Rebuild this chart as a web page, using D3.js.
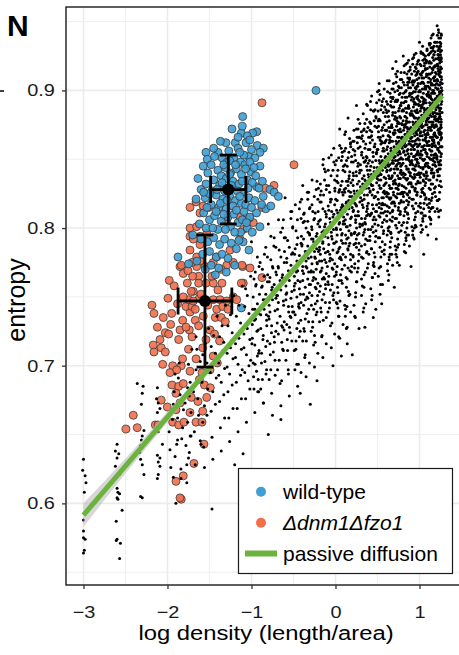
<!DOCTYPE html>
<html><head><meta charset="utf-8">
<script src="https://cdn.jsdelivr.net/npm/d3@7"></script>
<style>body{margin:0;background:#fff;} svg{display:block;font-family:"Liberation Sans",Arial,Helvetica,sans-serif;}</style>
</head><body><svg id="c" width="459" height="655"></svg>
<script>
// ---------------- data ----------------
const xTicks = [-3, -2, -1, 0, 1];
const yTicks = [0.6, 0.7, 0.8, 0.9];
const xMinor = [-2.5, -1.5, -0.5, 0.5, 1.5];
const yMinor = [0.55, 0.65, 0.75, 0.85, 0.95];
const xDomain = [-3.208, 1.506];
const yDomain = [0.5407, 0.9606];
const fitX = [-3, 1.27];
const fitY = [0.5915, 0.896];
const bandX = [-3, -2.5, -2, -1.5, -1, 0, 1, 1.27];
const bandHalf = [0.0085, 0.0055, 0.0038, 0.0026, 0.002, 0.0015, 0.0018, 0.0022];
const legendLabels = ["wild-type", "Δdnm1Δfzo1", "passive diffusion"];
const meanX = [-1.276, -1.554];
const meanY = [0.828, 0.747];
const sdX = [0.21, 0.32];
const sdY = [0.025, 0.048];

const passive = [
[-3.00,.632],[-3.01,.624],[-2.98,.620],[-2.97,.615],[-2.99,.608],[-3.00,.588],[-3.00,.580],[-3.00,.575],[-2.98,.574],[-2.99,.566],[-3.00,.564],
[-2.60,.643],[-2.62,.638],[-2.58,.636],[-2.60,.633],[-2.62,.627],[-2.57,.621],[-2.60,.611],[-2.59,.608],[-2.57,.607],[-2.60,.604],[-2.59,.603],[-2.54,.595],[-2.61,.587],[-2.60,.574],[-2.61,.573],[-2.56,.571],[-2.57,.560],
[-2.36,.687],[-2.29,.685],[-2.30,.680],[-2.31,.672],[-2.28,.653],[-2.30,.649],[-2.31,.646],[-2.32,.642],[-2.33,.637],[-2.32,.632],[-2.30,.628],[-2.28,.621],[-2.32,.605],[-2.30,.604],
[-2.12,.684],[-2.13,.676],[-2.11,.673],[-2.12,.666],[-2.09,.669],[-2.11,.652],[-2.12,.635],[-2.09,.633],[-2.11,.630],[-2.09,.627],[-2.11,.621],[-2.12,.618],[-2.06,.643],
[-1.91,.634],[-1.89,.643],[-1.88,.646],[-1.93,.619],[-1.90,.600],[-1.73,.649],[-1.72,.649],[-1.74,.637],[-1.75,.633],[-1.84,.625],[-1.61,.6455],[-1.60,.643],[-1.47,.596],[-1.77,.628],
[-1.98,.652],[-1.95,.668],[-1.92,.681],[-1.97,.639],[-1.94,.661],[-1.91,.694],[-1.96,.626],[-1.93,.672],
[-1.88,.662],[-1.85,.679],[-1.82,.655],[-1.87,.691],[-1.84,.618],[-1.81,.668],[-1.86,.702],[-1.83,.647],
[-1.79,.673],[-1.76,.659],[-1.73,.688],[-1.78,.642],[-1.75,.701],[-1.72,.666],[-1.77,.615],[-1.74,.678],[-1.71,.712],[-1.76,.684],
[-1.69,.681],[-1.66,.697],[-1.63,.664],[-1.68,.652],[-1.65,.712],[-1.62,.689],[-1.67,.628],[-1.64,.676],[-1.61,.703],[-1.66,.721],
[-1.59,.688],[-1.56,.671],[-1.53,.702],[-1.58,.659],[-1.55,.716],[-1.52,.683],[-1.57,.641],[-1.54,.695],[-1.51,.727],[-1.58,.708],[-1.53,.664],[-1.56,.626],
[-1.49,.695],[-1.46,.681],[-1.43,.709],[-1.48,.667],[-1.45,.722],[-1.42,.691],[-1.47,.648],[-1.44,.703],[-1.41,.736],[-1.48,.714],[-1.43,.672],[-1.46,.632],
[-1.39,.702],[-1.36,.688],[-1.33,.717],[-1.38,.674],[-1.35,.729],[-1.32,.698],[-1.37,.655],[-1.34,.711],[-1.31,.744],[-1.38,.721],[-1.33,.679],[-1.36,.638],[-1.32,.662],[-1.39,.693],
[-1.29,.709],[-1.26,.694],[-1.23,.724],[-1.28,.681],[-1.25,.737],[-1.22,.705],[-1.27,.662],[-1.24,.718],[-1.21,.751],[-1.28,.729],[-1.23,.686],[-1.26,.645],[-1.22,.669],[-1.29,.699],[-1.25,.713],
[-1.19,.716],[-1.16,.701],[-1.13,.731],[-1.18,.688],[-1.15,.744],[-1.12,.712],[-1.17,.669],[-1.14,.725],[-1.11,.758],[-1.18,.736],[-1.13,.693],[-1.16,.652],[-1.12,.676],[-1.19,.706],[-1.15,.720],[-1.11,.697],
[-1.09,.723],[-1.06,.708],[-1.03,.738],[-1.08,.695],[-1.05,.751],[-1.02,.719],[-1.07,.676],[-1.04,.732],[-1.01,.765],[-1.08,.743],[-1.03,.700],[-1.06,.659],[-1.02,.683],[-1.09,.713],[-1.05,.727],[-1.01,.704],[-1.07,.756],[-1.04,.689],
[-.99,.730],[-.96,.715],[-.93,.745],[-.98,.702],[-.95,.758],[-.92,.726],[-.97,.683],[-.94,.739],[-.91,.772],[-.98,.750],[-.93,.707],[-.96,.666],[-.92,.690],[-.99,.720],[-.95,.734],[-.91,.711],[-.97,.763],[-.94,.696],[-.93,.779],[-.96,.741],
[-.89,.737],[-.86,.722],[-.83,.752],[-.88,.709],[-.85,.765],[-.82,.733],[-.87,.690],[-.84,.746],[-.81,.779],[-.88,.757],[-.83,.714],[-.86,.673],[-.82,.697],[-.89,.727],[-.85,.741],[-.81,.718],[-.87,.770],[-.84,.703],[-.83,.786],[-.86,.748],[-.89,.683],[-.81,.761],
[-.79,.744],[-.76,.729],[-.73,.759],[-.78,.716],[-.75,.772],[-.72,.740],[-.77,.697],[-.74,.753],[-.71,.786],[-.78,.764],[-.73,.721],[-.76,.680],[-.72,.704],[-.79,.734],[-.75,.748],[-.71,.725],[-.77,.777],[-.74,.710],[-.73,.793],[-.76,.755],[-.79,.690],[-.71,.768],[-.75,.664],[-.78,.739],
[-.69,.751],[-.66,.736],[-.63,.766],[-.68,.723],[-.65,.779],[-.62,.747],[-.67,.704],[-.64,.760],[-.61,.793],[-.68,.771],[-.63,.728],[-.66,.687],[-.62,.711],[-.69,.741],[-.65,.755],[-.61,.732],[-.67,.784],[-.64,.717],[-.63,.800],[-.66,.762],[-.69,.697],[-.61,.775],[-.65,.671],[-.68,.746],[-.62,.806],[-.64,.729],
[-.59,.758],[-.56,.743],[-.53,.773],[-.58,.730],[-.55,.786],[-.52,.754],[-.57,.711],[-.54,.767],[-.51,.800],[-.58,.778],[-.53,.735],[-.56,.694],[-.52,.718],[-.59,.748],[-.55,.762],[-.51,.739],[-.57,.791],[-.54,.724],[-.53,.807],[-.56,.769],[-.59,.704],[-.51,.782],[-.55,.678],[-.58,.753],[-.52,.812],[-.54,.736],[-.57,.765],[-.53,.749],
[-.49,.765],[-.46,.750],[-.43,.780],[-.48,.737],[-.45,.793],[-.42,.761],[-.47,.718],[-.44,.774],[-.41,.807],[-.48,.785],[-.43,.742],[-.46,.701],[-.42,.725],[-.49,.755],[-.45,.769],[-.41,.746],[-.47,.798],[-.44,.731],[-.43,.814],[-.46,.776],[-.49,.711],[-.41,.789],[-.45,.685],[-.48,.760],[-.42,.819],[-.44,.743],[-.47,.772],[-.43,.756],[-.41,.695],[-.46,.727],
[-.39,.772],[-.36,.757],[-.33,.787],[-.38,.744],[-.35,.800],[-.32,.768],[-.37,.725],[-.34,.781],[-.31,.814],[-.38,.792],[-.33,.749],[-.36,.708],[-.32,.732],[-.39,.762],[-.35,.776],[-.31,.753],[-.37,.805],[-.34,.738],[-.33,.821],[-.36,.783],[-.39,.718],[-.31,.796],[-.35,.692],[-.38,.767],[-.32,.826],[-.34,.750],[-.37,.779],[-.33,.763],[-.31,.702],[-.36,.734],[-.38,.810],[-.34,.771],
[-.29,.779],[-.26,.764],[-.23,.794],[-.28,.751],[-.25,.807],[-.22,.775],[-.27,.732],[-.24,.788],[-.21,.821],[-.28,.799],[-.23,.756],[-.26,.715],[-.22,.739],[-.29,.769],[-.25,.783],[-.21,.760],[-.27,.812],[-.24,.745],[-.23,.828],[-.26,.790],[-.29,.725],[-.21,.803],[-.25,.699],[-.28,.774],[-.22,.834],[-.24,.757],[-.27,.786],[-.23,.770],[-.21,.709],[-.26,.741],[-.28,.817],[-.24,.778],[-.22,.796],[-.27,.762],
[-.19,.786],[-.16,.771],[-.13,.801],[-.18,.758],[-.15,.814],[-.12,.782],[-.17,.739],[-.14,.795],[-.11,.828],[-.18,.806],[-.13,.763],[-.16,.722],[-.12,.746],[-.19,.776],[-.15,.790],[-.11,.767],[-.17,.819],[-.14,.752],[-.13,.835],[-.16,.797],[-.19,.732],[-.11,.810],[-.15,.706],[-.18,.781],[-.12,.841],[-.14,.764],[-.17,.793],[-.13,.777],[-.11,.716],[-.16,.748],[-.18,.824],[-.14,.785],[-.12,.803],[-.17,.769],[-.15,.846],[-.19,.754],
[-.09,.793],[-.06,.778],[-.03,.808],[-.08,.765],[-.05,.821],[-.02,.789],[-.07,.746],[-.04,.802],[-.01,.835],[-.08,.813],[-.03,.770],[-.06,.729],[-.02,.753],[-.09,.783],[-.05,.797],[-.01,.774],[-.07,.826],[-.04,.759],[-.03,.842],[-.06,.804],[-.09,.739],[-.01,.817],[-.05,.713],[-.08,.788],[-.02,.848],[-.04,.771],[-.07,.800],[-.03,.784],[-.01,.723],[-.06,.755],[-.08,.831],[-.04,.792],[-.02,.810],[-.07,.776],[-.05,.853],[-.09,.761],[-.03,.700],[-.06,.819],
[.01,.800],[.04,.785],[.07,.815],[.02,.772],[.05,.828],[.08,.796],[.03,.753],[.06,.809],[.09,.842],[.02,.820],[.07,.777],[.04,.736],[.08,.760],[.01,.790],[.05,.804],[.09,.781],[.03,.833],[.06,.766],[.07,.849],[.04,.811],[.01,.746],[.09,.824],[.05,.720],[.02,.795],[.08,.855],[.06,.778],[.03,.807],[.07,.791],[.09,.730],[.04,.762],[.02,.838],[.06,.799],[.08,.817],[.03,.783],[.05,.860],[.01,.768],[.07,.707],[.04,.826],[.09,.803],[.02,.745],
[.11,.812],[.13,.834],[.16,.798],[.18,.826],[.12,.779],[.15,.851],[.19,.808],[.14,.763],[.17,.841],[.11,.744],[.13,.819],[.16,.787],[.18,.862],[.12,.829],[.15,.771],[.19,.795],[.14,.845],[.17,.752],[.11,.803],[.13,.727],[.16,.836],[.18,.781],[.12,.858],[.15,.816],[.19,.768],[.14,.801],[.17,.823],[.11,.868],[.13,.757],[.16,.814],[.18,.739],[.12,.795],[.15,.831],[.19,.848],[.14,.716],[.17,.789],[.11,.826],[.13,.801],[.16,.855],[.18,.807],[.12,.741],[.15,.784],
[.21,.831],[.24,.806],[.27,.847],[.22,.788],[.26,.862],[.29,.819],[.23,.774],[.25,.838],[.28,.796],[.21,.857],[.24,.753],[.27,.825],[.22,.871],[.26,.809],[.29,.842],[.23,.736],[.25,.786],[.28,.866],[.21,.812],[.24,.849],[.27,.771],[.22,.827],[.26,.795],[.29,.876],[.23,.818],[.25,.761],[.28,.834],[.21,.779],[.24,.804],[.27,.858],[.22,.744],[.26,.832],[.29,.801],[.23,.853],[.25,.816],[.28,.727],[.21,.840],[.24,.789],[.27,.812],[.22,.863],[.26,.768],[.29,.826],[.23,.797],[.25,.872],[.28,.781],
[.31,.826],[.34,.848],[.37,.809],[.32,.867],[.36,.792],[.39,.839],[.33,.815],[.35,.876],[.38,.771],[.31,.853],[.34,.797],[.37,.832],[.32,.758],[.36,.861],[.39,.818],[.33,.883],[.35,.804],[.38,.842],[.31,.779],[.34,.821],[.37,.870],[.32,.836],[.36,.745],[.39,.799],[.33,.851],[.35,.788],[.38,.814],[.31,.865],[.34,.766],[.37,.845],[.32,.802],[.36,.829],[.39,.857],[.33,.739],[.35,.835],[.38,.889],[.31,.807],[.34,.872],[.37,.782],[.32,.817],[.36,.849],[.39,.774],[.33,.795],[.35,.858],[.38,.824],[.31,.751],[.34,.838],[.37,.812],
[.41,.842],[.44,.817],[.47,.861],[.42,.799],[.46,.878],[.49,.833],[.43,.785],[.45,.852],[.48,.806],[.41,.871],[.44,.764],[.47,.839],[.42,.886],[.46,.822],[.49,.855],[.43,.748],[.45,.797],[.48,.881],[.41,.826],[.44,.864],[.47,.779],[.42,.845],[.46,.808],[.49,.891],[.43,.831],[.45,.773],[.48,.849],[.41,.791],[.44,.836],[.47,.874],[.42,.756],[.46,.844],[.49,.812],[.43,.867],[.45,.828],[.48,.741],[.41,.857],[.44,.801],[.47,.823],[.42,.876],[.46,.782],[.49,.838],[.43,.811],[.45,.885],[.48,.794],[.41,.809],[.44,.848],[.47,.767],[.42,.832],[.46,.859],
[.51,.838],[.54,.861],[.57,.822],[.52,.879],[.56,.804],[.59,.851],[.53,.829],[.55,.889],[.58,.784],[.51,.866],[.54,.811],[.57,.846],[.52,.771],[.56,.873],[.59,.832],[.53,.897],[.55,.817],[.58,.856],[.51,.793],[.54,.835],[.57,.884],[.52,.849],[.56,.759],[.59,.812],[.53,.864],[.55,.801],[.58,.827],[.51,.878],[.54,.779],[.57,.858],[.52,.815],[.56,.842],[.59,.871],[.53,.752],[.55,.848],[.58,.901],[.51,.821],[.54,.886],[.57,.796],[.52,.831],[.56,.862],[.59,.788],[.53,.808],[.55,.871],[.58,.837],[.51,.765],[.54,.852],[.57,.826],[.52,.893],[.56,.818],[.59,.846],[.53,.786],
[.61,.857],[.64,.831],[.67,.875],[.62,.812],[.66,.892],[.69,.847],[.63,.798],[.65,.866],[.68,.819],[.61,.884],[.64,.777],[.67,.853],[.62,.899],[.66,.836],[.69,.869],[.63,.762],[.65,.811],[.68,.894],[.61,.841],[.64,.878],[.67,.793],[.62,.859],[.66,.822],[.69,.905],[.63,.845],[.65,.786],[.68,.863],[.61,.805],[.64,.850],[.67,.888],[.62,.769],[.66,.858],[.69,.826],[.63,.881],[.65,.842],[.68,.773],[.61,.871],[.64,.815],[.67,.837],[.62,.890],[.66,.796],[.69,.852],[.63,.825],[.65,.898],[.68,.808],[.61,.823],[.64,.862],[.67,.781],[.62,.846],[.66,.873],[.69,.834],[.63,.867],[.65,.829],[.68,.849],[.64,.801],
[.71,.852],[.74,.876],[.77,.836],[.72,.893],[.76,.818],[.79,.866],[.73,.843],[.75,.903],[.78,.798],[.71,.881],[.74,.825],[.77,.861],[.72,.784],[.76,.887],[.79,.846],[.73,.910],[.75,.831],[.78,.870],[.71,.807],[.74,.849],[.77,.898],[.72,.863],[.76,.773],[.79,.826],[.73,.878],[.75,.815],[.78,.841],[.71,.892],[.74,.792],[.77,.872],[.72,.829],[.76,.856],[.79,.885],[.73,.779],[.75,.862],[.78,.913],[.71,.835],[.74,.900],[.77,.810],[.72,.845],[.76,.876],[.79,.802],[.73,.822],[.75,.885],[.78,.851],[.71,.787],[.74,.866],[.77,.840],[.72,.906],[.76,.832],[.79,.860],[.73,.800],[.75,.847],[.78,.825],[.71,.869],[.74,.838],[.77,.889],[.76,.855],
[.81,.871],[.84,.845],[.87,.889],[.82,.826],[.86,.906],[.89,.861],[.83,.812],[.85,.880],[.88,.833],[.81,.898],[.84,.791],[.87,.867],[.82,.913],[.86,.850],[.89,.883],[.83,.797],[.85,.825],[.88,.908],[.81,.855],[.84,.892],[.87,.807],[.82,.873],[.86,.836],[.89,.917],[.83,.859],[.85,.800],[.88,.877],[.81,.819],[.84,.864],[.87,.902],[.82,.783],[.86,.872],[.89,.840],[.83,.895],[.85,.856],[.88,.787],[.81,.885],[.84,.829],[.87,.851],[.82,.904],[.86,.810],[.89,.866],[.83,.839],[.85,.912],[.88,.822],[.81,.837],[.84,.876],[.87,.795],[.82,.860],[.86,.887],[.89,.848],[.83,.881],[.85,.843],[.88,.863],[.84,.815],[.87,.922],[.81,.804],[.83,.868],[.86,.824],[.89,.897],
[.91,.866],[.94,.890],[.97,.850],[.92,.907],[.96,.832],[.99,.880],[.93,.857],[.95,.917],[.98,.812],[.91,.895],[.94,.839],[.97,.875],[.92,.798],[.96,.901],[.99,.860],[.93,.924],[.95,.845],[.98,.884],[.91,.821],[.94,.863],[.97,.912],[.92,.877],[.96,.801],[.99,.840],[.93,.892],[.95,.829],[.98,.855],[.91,.906],[.94,.806],[.97,.886],[.92,.843],[.96,.870],[.99,.899],[.93,.793],[.95,.876],[.98,.921],[.91,.849],[.94,.914],[.97,.824],[.92,.859],[.96,.890],[.99,.816],[.93,.836],[.95,.899],[.98,.865],[.91,.801],[.94,.880],[.97,.854],[.92,.919],[.96,.846],[.99,.874],[.93,.814],[.95,.861],[.98,.839],[.91,.883],[.94,.852],[.97,.903],[.96,.869],[.92,.830],[.99,.893],[.93,.871],[.95,.808],
[1.01,.885],[1.04,.859],[1.07,.903],[1.02,.840],[1.06,.920],[1.09,.875],[1.03,.826],[1.05,.894],[1.08,.847],[1.01,.912],[1.04,.805],[1.07,.881],[1.02,.927],[1.06,.864],[1.09,.897],[1.03,.811],[1.05,.839],[1.08,.922],[1.01,.869],[1.04,.906],[1.07,.821],[1.02,.887],[1.06,.850],[1.09,.930],[1.03,.873],[1.05,.814],[1.08,.891],[1.01,.833],[1.04,.878],[1.07,.916],[1.02,.797],[1.06,.886],[1.09,.854],[1.03,.909],[1.05,.870],[1.08,.801],[1.01,.899],[1.04,.843],[1.07,.865],[1.02,.918],[1.06,.824],[1.09,.880],[1.03,.853],[1.05,.926],[1.08,.836],[1.01,.851],[1.04,.890],[1.07,.809],[1.02,.874],[1.06,.901],[1.09,.862],[1.03,.895],[1.05,.857],[1.08,.877],[1.04,.829],[1.07,.893],[1.01,.818],[1.03,.882],[1.06,.838],[1.09,.911],[1.02,.856],[1.05,.905],[1.08,.868],[1.04,.922],[1.07,.845],
[1.11,.880],[1.14,.904],[1.17,.864],[1.12,.921],[1.16,.846],[1.19,.894],[1.13,.871],[1.15,.931],[1.18,.826],[1.11,.909],[1.14,.853],[1.17,.889],[1.12,.812],[1.16,.915],[1.19,.874],[1.13,.934],[1.15,.859],[1.18,.898],[1.11,.835],[1.14,.877],[1.17,.926],[1.12,.891],[1.16,.815],[1.19,.854],[1.13,.906],[1.15,.843],[1.18,.869],[1.11,.920],[1.14,.820],[1.17,.900],[1.12,.857],[1.16,.884],[1.19,.913],[1.13,.807],[1.15,.890],[1.18,.935],[1.11,.863],[1.14,.928],[1.17,.838],[1.12,.873],[1.16,.904],[1.19,.830],[1.13,.850],[1.15,.913],[1.18,.879],[1.11,.815],[1.14,.894],[1.17,.868],[1.12,.933],[1.16,.860],[1.19,.888],[1.13,.828],[1.15,.875],[1.18,.853],[1.11,.897],[1.14,.866],[1.17,.917],[1.16,.883],[1.12,.844],[1.19,.907],[1.13,.885],[1.15,.822],[1.18,.910],[1.14,.840],[1.17,.851],[1.11,.926],[1.13,.896],[1.16,.931],[1.19,.867],[1.12,.902],
[1.21,.889],[1.23,.912],[1.25,.873],[1.22,.929],[1.24,.855],[1.26,.902],[1.21,.866],[1.23,.938],[1.25,.834],[1.22,.916],[1.24,.881],[1.26,.921],[1.21,.820],[1.23,.895],[1.25,.906],[1.22,.848],[1.24,.932],[1.26,.877],[1.21,.908],[1.23,.861],[1.25,.926],[1.22,.893],[1.24,.826],[1.26,.859],[1.21,.935],[1.23,.843],[1.25,.887],[1.22,.871],[1.24,.914],[1.26,.940],[1.21,.852],[1.23,.924],[1.25,.813],[1.22,.901],[1.24,.868],[1.26,.895],[1.21,.878],[1.23,.880],[1.25,.917],[1.22,.838],[1.24,.897],[1.26,.830],[1.21,.919],[1.23,.808],[1.25,.864],[1.22,.926],[1.24,.846],[1.26,.910],[1.21,.896],[1.23,.869],[1.25,.899],[1.22,.858],[1.24,.885],[1.26,.869],[1.21,.842],[1.23,.931],[1.25,.849],[1.22,.883],[1.24,.920],[1.27,.905],
[-.145,.850],[-.39,.831],[.371,.890],[.50,.899],[.60,.886],[.807,.925],[.855,.920],[.958,.927],[1.229,.942],[1.21,.947],[.05,.872],[.15,.880],[.25,.889],[.68,.916],[.72,.921],[1.0,.935],[1.15,.940],[-.60,.822],[-.80,.803],[-1.0,.790],
[-.914,.681],[-.42,.680],[-.22,.689],[.117,.736],[.35,.728],[.55,.745],[.70,.757],[.90,.772],[1.05,.781],[1.2,.792],[-.65,.661],[-1.1,.636],[-.30,.672],[.20,.708],[.45,.735],[1.1,.795],[-1.2,.628],[-.80,.650]
];

const passiveMore = [
[-.985,.741],[-.915,.709],[-.955,.768],[-.935,.725],[-.975,.692],[-.905,.752],[-.965,.733],[-.925,.681],[-.945,.759],[-.995,.716],[-.912,.738],[-.958,.701],
[-.872,.758],[-.818,.729],[-.846,.781],[-.893,.741],[-.827,.694],[-.864,.719],[-.808,.766],[-.881,.702],[-.839,.748],[-.856,.673],[-.897,.775],[-.823,.737],
[-.788,.761],[-.734,.787],[-.762,.724],[-.709,.749],[-.776,.708],[-.745,.771],[-.718,.693],[-.797,.736],[-.753,.757],[-.726,.717],[-.769,.794],[-.702,.766],
[-.683,.772],[-.617,.744],[-.652,.797],[-.694,.731],[-.628,.712],[-.666,.758],[-.607,.783],[-.641,.689],[-.678,.806],[-.635,.764],[-.699,.751],[-.612,.726],
[-.588,.752],[-.523,.781],[-.557,.739],[-.509,.801],[-.574,.719],[-.541,.766],[-.596,.793],[-.516,.743],[-.563,.697],[-.532,.812],[-.581,.775],[-.548,.728],
[-.487,.781],[-.418,.752],[-.453,.806],[-.496,.739],[-.431,.721],[-.465,.768],[-.406,.794],[-.442,.701],[-.478,.817],[-.425,.776],[-.491,.758],[-.414,.733],[-.459,.788],[-.437,.745],[-.472,.712],[-.403,.821],[-.448,.762],[-.483,.697],
[-.393,.769],[-.327,.797],[-.358,.748],[-.304,.815],[-.376,.727],[-.341,.783],[-.385,.804],[-.312,.759],[-.366,.706],[-.334,.826],[-.399,.788],[-.319,.741],[-.352,.772],[-.381,.752],[-.308,.795],[-.347,.718],[-.372,.811],[-.323,.778],
[-.284,.801],[-.216,.774],[-.253,.823],[-.297,.759],[-.231,.737],[-.268,.792],[-.207,.812],[-.242,.717],[-.279,.835],[-.224,.785],[-.291,.768],[-.213,.751],[-.258,.806],[-.236,.763],[-.273,.728],[-.203,.829],[-.247,.779],[-.287,.744],
[-.191,.784],[-.124,.812],[-.157,.763],[-.106,.831],[-.176,.742],[-.141,.798],[-.185,.819],[-.113,.775],[-.164,.721],[-.132,.843],[-.198,.805],[-.118,.756],[-.152,.789],[-.181,.768],[-.109,.808],[-.146,.733],[-.171,.827],[-.127,.794],
[-.087,.816],[-.015,.789],[-.053,.838],[-.096,.772],[-.031,.751],[-.068,.807],[-.007,.827],[-.042,.731],[-.079,.851],[-.024,.799],[-.091,.783],[-.012,.765],[-.058,.821],[-.036,.777],[-.073,.742],[-.003,.846],[-.047,.794],[-.084,.759],
[.012,.799],[.083,.826],[.047,.778],[.094,.845],[.024,.757],[.059,.813],[.015,.834],[.087,.789],[.036,.736],[.068,.858],[.003,.821],[.078,.770],[.042,.803],[.019,.782],[.091,.816],[.054,.747],[.029,.842],[.073,.795],[.008,.766],[.064,.831],[.097,.808],[.038,.721],[.081,.852],[.026,.811],[.051,.786],[.069,.762],[.011,.849],[.044,.827],
[.117,.806],[.184,.833],[.146,.785],[.192,.852],[.126,.764],[.158,.820],[.113,.841],[.187,.796],[.137,.743],[.168,.865],[.104,.828],[.179,.777],[.142,.810],[.121,.789],[.196,.823],[.153,.754],[.131,.849],[.174,.802],[.109,.773],[.163,.838],[.198,.815],[.139,.728],[.182,.859],[.127,.818],[.151,.793],[.171,.769],[.106,.856],[.148,.834],
[.214,.813],[.286,.840],[.248,.792],[.293,.859],[.227,.771],[.259,.827],[.212,.848],[.289,.803],[.238,.750],[.269,.872],[.205,.835],[.281,.784],[.243,.817],[.223,.796],[.297,.830],[.254,.761],[.231,.856],[.276,.809],[.208,.780],[.266,.845],[.299,.822],[.236,.735],[.284,.866],[.229,.825],[.251,.800],[.273,.776],[.207,.863],[.246,.841],
[.316,.820],[.388,.847],[.349,.799],[.394,.866],[.328,.778],[.361,.834],[.313,.855],[.391,.810],[.339,.757],[.371,.879],[.306,.842],[.383,.791],[.344,.824],[.322,.803],[.398,.837],[.356,.768],[.333,.863],[.377,.816],[.309,.787],[.367,.852],[.396,.829],[.337,.742],[.386,.873],[.324,.832],[.353,.807],[.374,.783],[.308,.870],[.347,.848],
[.414,.827],[.487,.854],[.448,.806],[.493,.873],[.426,.785],[.459,.841],[.412,.862],[.489,.817],[.438,.764],[.471,.886],[.405,.849],[.481,.798],[.443,.831],[.421,.810],[.497,.844],[.454,.775],[.432,.870],[.476,.823],[.409,.794],[.466,.859],[.495,.836],[.436,.751],[.484,.880],[.428,.839],[.452,.814],[.473,.790],[.407,.877],[.446,.855],[.468,.803],[.417,.892],
[.514,.835],[.587,.862],[.548,.814],[.593,.881],[.526,.793],[.559,.849],[.512,.870],[.589,.825],[.538,.772],[.571,.894],[.505,.857],[.581,.806],[.543,.839],[.521,.818],[.597,.852],[.554,.783],[.532,.878],[.576,.831],[.509,.802],[.566,.867],[.595,.844],[.536,.759],[.584,.888],[.528,.847],[.552,.822],[.573,.798],[.507,.885],[.546,.863],[.568,.811],[.517,.900],
[.523,.841],[.562,.856],[.591,.817],[.541,.829],[.579,.875],[.503,.826],[.557,.790],[.534,.866],[.599,.836],[.516,.809],
[.614,.842],[.687,.869],[.648,.821],[.693,.888],[.626,.800],[.659,.856],[.612,.877],[.689,.832],[.638,.779],[.671,.901],[.605,.864],[.681,.813],[.643,.846],[.621,.825],[.697,.859],[.654,.790],[.632,.885],[.676,.838],[.609,.809],[.666,.874],[.695,.851],[.636,.766],[.684,.895],[.628,.854],[.652,.829],[.673,.805],[.607,.892],[.646,.870],[.668,.818],[.617,.907],
[.623,.848],[.662,.863],[.691,.824],[.641,.836],[.679,.882],[.603,.833],[.657,.797],[.634,.873],[.699,.843],[.616,.816],
[.714,.849],[.787,.876],[.748,.828],[.793,.895],[.726,.807],[.759,.863],[.712,.884],[.789,.839],[.738,.786],[.771,.908],[.705,.871],[.781,.820],[.743,.853],[.721,.832],[.797,.866],[.754,.797],[.732,.892],[.776,.845],[.709,.816],[.766,.881],[.795,.858],[.736,.775],[.784,.902],[.728,.861],[.752,.836],[.773,.812],[.707,.899],[.746,.877],[.768,.825],[.717,.912],
[.723,.855],[.762,.870],[.791,.831],[.741,.843],[.779,.889],[.703,.840],[.757,.804],[.734,.880],[.799,.850],[.716,.823],[.764,.847],[.786,.865],
[.814,.856],[.887,.883],[.848,.835],[.893,.902],[.826,.814],[.859,.870],[.812,.891],[.889,.846],[.838,.793],[.871,.914],[.805,.878],[.881,.827],[.843,.860],[.821,.839],[.897,.873],[.854,.804],[.832,.899],[.876,.852],[.809,.823],[.866,.888],[.895,.865],[.836,.782],[.884,.909],[.828,.868],[.852,.843],[.873,.819],[.807,.906],[.846,.884],[.868,.832],[.817,.918],
[.823,.862],[.862,.877],[.891,.838],[.841,.850],[.879,.896],[.803,.847],[.857,.811],[.834,.887],[.899,.857],[.816,.830],[.864,.854],[.886,.872],[.831,.874],[.874,.841],[.849,.895],
[.914,.863],[.987,.890],[.948,.842],[.993,.909],[.926,.821],[.959,.877],[.912,.898],[.989,.853],[.938,.800],[.971,.919],[.905,.885],[.981,.834],[.943,.867],[.921,.846],[.997,.880],[.954,.811],[.932,.906],[.976,.859],[.909,.830],[.966,.895],[.995,.872],[.936,.792],[.984,.914],[.928,.875],[.952,.850],[.973,.826],[.907,.912],[.946,.891],[.968,.839],[.917,.923],
[.923,.869],[.962,.884],[.991,.845],[.941,.857],[.979,.903],[.903,.854],[.957,.818],[.934,.894],[.999,.864],[.916,.837],[.964,.861],[.986,.879],[.931,.881],[.974,.848],[.949,.902],[.911,.871],[.982,.896],[.944,.828],[.969,.908],[.927,.852],
[1.014,.870],[1.087,.897],[1.048,.849],[1.093,.916],[1.026,.828],[1.059,.884],[1.012,.905],[1.089,.860],[1.038,.807],[1.071,.925],[1.005,.892],[1.081,.841],[1.043,.874],[1.021,.853],[1.097,.887],[1.054,.818],[1.032,.913],[1.076,.866],[1.009,.837],[1.066,.902],[1.095,.879],[1.036,.799],[1.084,.921],[1.028,.882],[1.052,.857],[1.073,.833],[1.007,.919],[1.046,.898],[1.068,.846],[1.017,.928],
[1.023,.876],[1.062,.891],[1.091,.852],[1.041,.864],[1.079,.910],[1.003,.861],[1.057,.825],[1.034,.901],[1.099,.871],[1.016,.844],[1.064,.868],[1.086,.886],[1.031,.888],[1.074,.855],[1.049,.909],[1.011,.878],[1.082,.903],[1.044,.835],[1.069,.915],[1.027,.859],[1.056,.893],[1.019,.811],[1.093,.838],[1.038,.927],[1.078,.822],
[1.114,.877],[1.187,.904],[1.148,.856],[1.193,.923],[1.126,.835],[1.159,.891],[1.112,.912],[1.189,.867],[1.138,.814],[1.171,.932],[1.105,.899],[1.181,.848],[1.143,.881],[1.121,.860],[1.197,.894],[1.154,.825],[1.132,.920],[1.176,.873],[1.109,.844],[1.166,.909],[1.195,.886],[1.136,.806],[1.184,.928],[1.128,.889],[1.152,.864],[1.173,.840],[1.107,.926],[1.146,.905],[1.168,.853],[1.117,.934],
[1.123,.883],[1.162,.898],[1.191,.859],[1.141,.871],[1.179,.917],[1.103,.868],[1.157,.832],[1.134,.908],[1.199,.878],[1.116,.851],[1.164,.875],[1.186,.893],[1.131,.895],[1.174,.862],[1.149,.916],[1.111,.885],[1.182,.910],[1.144,.842],[1.169,.922],[1.127,.866],[1.156,.900],[1.119,.818],[1.193,.845],[1.138,.931],[1.178,.829],[1.102,.903],[1.161,.849],[1.124,.927],[1.188,.881],[1.151,.874],
[1.204,.883],[1.247,.910],[1.228,.862],[1.263,.929],[1.216,.841],[1.239,.897],[1.202,.918],[1.259,.873],[1.218,.820],[1.251,.938],[1.205,.905],[1.261,.854],[1.233,.887],[1.211,.866],[1.267,.900],[1.234,.831],[1.222,.926],[1.256,.879],[1.209,.850],[1.246,.915],[1.265,.892],[1.226,.812],[1.254,.934],[1.218,.895],[1.242,.870],[1.253,.846],[1.207,.932],[1.236,.911],[1.248,.859],[1.213,.940],
[1.223,.889],[1.242,.904],[1.261,.865],[1.231,.877],[1.259,.923],[1.203,.874],[1.237,.838],[1.224,.914],[1.269,.884],[1.216,.857],[1.244,.881],[1.256,.899],[1.221,.901],[1.254,.868],[1.239,.922],[1.211,.891],[1.262,.916],[1.234,.848],[1.249,.928],[1.227,.872]
];

const passiveDense = [
[.602,.871],[.633,.838],[.655,.889],[.678,.812],[.691,.856],[.615,.795],[.644,.864],[.669,.829],[.687,.901],[.622,.848],[.651,.781],[.674,.873],[.608,.826],[.639,.907],[.662,.843],[.696,.819],[.627,.867],[.648,.806],[.683,.884],[.611,.851],[.658,.895],[.636,.822],[.671,.847],[.694,.868],[.619,.774],
[.704,.879],[.731,.846],[.758,.897],[.782,.819],[.795,.864],[.716,.802],[.744,.871],[.769,.836],[.789,.908],[.723,.855],[.751,.788],[.776,.880],[.709,.833],[.738,.914],[.763,.850],[.797,.826],[.727,.874],[.748,.813],[.784,.891],[.712,.858],[.761,.902],[.735,.829],[.772,.854],[.793,.875],[.719,.781],[.756,.866],[.741,.893],[.779,.842],[.701,.818],[.766,.810],
[.803,.886],[.832,.853],[.857,.904],[.881,.826],[.896,.871],[.815,.809],[.843,.878],[.868,.843],[.889,.915],[.824,.862],[.851,.795],[.876,.887],[.808,.840],[.837,.919],[.862,.857],[.898,.833],[.827,.881],[.847,.820],[.884,.898],[.812,.865],[.861,.909],[.835,.836],[.872,.861],[.893,.882],[.819,.788],[.855,.873],[.841,.900],[.879,.849],[.801,.825],[.866,.817],[.829,.892],[.852,.868],[.887,.840],[.818,.875],[.874,.906],
[.903,.893],[.932,.860],[.957,.911],[.981,.833],[.996,.878],[.915,.816],[.943,.885],[.968,.850],[.989,.922],[.924,.869],[.951,.802],[.976,.894],[.908,.847],[.937,.926],[.962,.864],[.998,.840],[.927,.888],[.947,.827],[.984,.905],[.912,.872],[.961,.916],[.935,.843],[.972,.868],[.993,.889],[.919,.795],[.955,.880],[.941,.907],[.979,.856],[.901,.832],[.966,.824],[.929,.899],[.952,.875],[.987,.847],[.918,.882],[.974,.913],[.906,.860],[.945,.837],[.983,.871],[.922,.904],[.958,.853],
[1.003,.900],[1.032,.867],[1.057,.918],[1.081,.840],[1.096,.885],[1.015,.823],[1.043,.892],[1.068,.857],[1.089,.929],[1.024,.876],[1.051,.809],[1.076,.901],[1.008,.854],[1.037,.932],[1.062,.871],[1.098,.847],[1.027,.895],[1.047,.834],[1.084,.912],[1.012,.879],[1.061,.923],[1.035,.850],[1.072,.875],[1.093,.896],[1.019,.802],[1.055,.887],[1.041,.914],[1.079,.863],[1.001,.839],[1.066,.831],[1.029,.906],[1.052,.882],[1.087,.854],[1.018,.889],[1.074,.920],[1.006,.867],[1.045,.844],[1.083,.878],[1.022,.911],[1.058,.860],[1.091,.817],[1.039,.826],[1.069,.903],[1.013,.815],[1.097,.869],
[1.103,.906],[1.132,.873],[1.157,.924],[1.181,.846],[1.196,.891],[1.115,.829],[1.143,.898],[1.168,.863],[1.189,.935],[1.124,.882],[1.151,.815],[1.176,.907],[1.108,.860],[1.137,.938],[1.162,.877],[1.198,.853],[1.127,.901],[1.147,.840],[1.184,.918],[1.112,.885],[1.161,.929],[1.135,.856],[1.172,.881],[1.193,.902],[1.119,.808],[1.155,.893],[1.141,.920],[1.179,.869],[1.101,.845],[1.166,.837],[1.129,.912],[1.152,.888],[1.187,.860],[1.118,.895],[1.174,.926],[1.106,.873],[1.145,.850],[1.183,.884],[1.122,.917],[1.158,.866],[1.191,.823],[1.139,.832],[1.169,.909],[1.113,.821],[1.197,.875],[1.133,.803],[1.164,.941],[1.185,.812],[1.121,.934],[1.149,.861],
[1.201,.912],[1.222,.879],[1.238,.930],[1.254,.852],[1.266,.897],[1.208,.835],[1.227,.904],[1.245,.869],[1.259,.941],[1.214,.888],[1.233,.821],[1.249,.913],[1.204,.866],[1.225,.944],[1.241,.883],[1.268,.859],[1.217,.907],[1.231,.846],[1.257,.924],[1.206,.891],[1.243,.935],[1.223,.862],[1.252,.887],[1.263,.908],[1.211,.814],[1.236,.899],[1.229,.926],[1.255,.875],[1.202,.851],[1.246,.843],[1.219,.918],[1.237,.894],[1.261,.866],[1.213,.901],[1.251,.932],[1.203,.879],[1.232,.856],[1.258,.890],[1.215,.923],[1.244,.872],
[-.285,.792],[-.262,.768],[-.241,.811],[-.217,.747],[-.203,.783],[-.188,.801],[-.164,.776],[-.142,.824],[-.119,.759],[-.104,.797],[-.087,.842],[-.068,.781],[-.045,.812],[-.023,.748],[-.008,.829],[.014,.813],[.038,.851],[.057,.779],[.079,.834],[.096,.805],[.112,.846],[.134,.792],[.156,.827],[.178,.861],[.193,.772],[.215,.838],[.236,.809],[.258,.866],[.279,.789],[.297,.846],[.313,.829],[.335,.871],[.357,.803],[.376,.851],[.398,.781],[.414,.866],[.436,.824],[.457,.885],[.478,.812],[.496,.857],[.512,.874],[.534,.839],[.556,.892],[.573,.817],[.595,.863],
[-.25,.722],[-.11,.735],[.03,.742],[.16,.751],[.31,.763],[.46,.772],[.58,.781],[-.33,.805],[-.18,.832],[-.02,.858],[.12,.870],[.27,.879],[.43,.896],[.52,.905],[-.40,.787]
];

const wildType = [
[-1.105,.881],[-1.232,.872],[-.938,.870],[-.986,.869],[-1.121,.869],[-1.05,.867],[-1.065,.862],[-1.304,.862],[-1.193,.862],[-.931,.860],[-.859,.858],[-.899,.855],[-1.542,.855],[-1.399,.855],[-1.526,.850],[-1.033,.852],[-1.16,.858],[-1.27,.856],[-1.00,.857],[-1.09,.853],[-1.35,.851],[-1.21,.851],[-1.44,.852],[-.96,.851],[-1.13,.848],[-1.29,.848],
[-1.574,.845],[-.899,.845],[-1.48,.846],[-1.40,.842],[-1.31,.844],[-1.18,.843],[-1.08,.846],[-1.01,.841],[-1.25,.840],[-1.12,.839],[-.95,.838],[-1.36,.838],[-1.52,.840],
[-1.637,.836],[-1.542,.832],[-.938,.830],[-.78,.828],[-1.45,.835],[-1.38,.831],[-1.22,.834],[-1.15,.832],[-1.05,.835],[-.99,.833],[-1.30,.836],[-1.60,.828],[-.87,.834],[-1.47,.827],[-1.10,.826],
[-1.55,.822],[-1.42,.824],[-1.34,.821],[-1.26,.823],[-1.19,.820],[-1.12,.818],[-1.03,.822],[-.96,.820],[-.86,.823],[-.73,.826],[-.68,.823],[-1.66,.821],[-1.48,.817],[-1.39,.815],[-1.30,.814],
[-1.57,.811],[-1.50,.806],[-1.44,.809],[-1.36,.805],[-1.28,.808],[-1.21,.810],[-1.16,.804],[-1.09,.812],[-1.02,.808],[-.94,.811],[-.83,.814],[-.77,.816],[-1.62,.803],[-1.54,.800],[-1.40,.799],[-1.25,.801],[-1.13,.797],[-1.05,.800],[-.99,.797],[-.90,.801],
[-1.70,.795],[-1.60,.792],[-1.52,.790],[-1.45,.793],[-1.38,.788],[-1.32,.792],[-1.24,.789],[-1.18,.785],[-1.10,.790],[-1.03,.784],[-1.50,.783],[-1.42,.779],[-1.35,.781],[-1.28,.778],[-1.58,.781],
[-1.875,.779],[-1.748,.774],[-1.43,.766],[-1.55,.770],[-1.48,.773],[-1.39,.771],[-1.30,.768],[-1.65,.776],[-1.20,.773],[-1.121,.742],
[-1.33,.846],[-1.26,.849],[-1.19,.846],[-1.14,.855],[-1.07,.843],[-1.02,.848],[-1.24,.831],[-1.17,.827],[-1.11,.834],[-1.04,.829],[-1.32,.827],[-1.37,.818],[-1.29,.820],[-1.22,.816],[-1.14,.823],[-1.07,.817],[-1.00,.815],[-1.42,.812],[-1.33,.810],[-1.18,.813],[-1.11,.806],[-1.06,.804],[-1.46,.800],[-1.31,.799],[-1.20,.797],[-1.15,.791],[-1.41,.828],[-1.50,.825],[-1.57,.826],[-1.45,.858],[-1.37,.863],[-1.16,.866],[-1.11,.874],[-1.02,.864],[-.97,.844],[-.91,.829],[-.88,.817],[-1.26,.839],[-1.35,.833],[-1.53,.815],
[-.232,.900]
];

const mutant = [
[-.875,.891],[-.494,.846],[-.732,.831],[-.836,.829],[-.875,.815],[-1.732,.815],[-1.66,.819],[-.979,.804],[-1.732,.800],[-1.653,.801],[-1.732,.794],[-1.03,.807],[-1.574,.816],
[-1.613,.811],[-1.51,.815],[-1.295,.805],[-1.137,.808],[-1.098,.799],[-1.057,.806],
[-1.979,.762],[-2.185,.744],[-2.161,.738],[-1.994,.749],[-1.851,.772],[-1.812,.767],[-1.962,.730],[-2.089,.719],[-2.026,.724],[-2.169,.715],[-1.986,.723],[-1.867,.719],[-1.851,.726],[-1.819,.733],[-1.732,.739],[-1.780,.743],[-1.708,.743],[-1.669,.741],[-1.621,.749],[-1.693,.754],[-1.748,.748],
[-2.074,.713],[-2.161,.710],[-2.026,.710],[-2.057,.701],[-1.938,.700],[-1.836,.700],[-1.732,.696],[-1.970,.695],[-1.494,.697],[-1.407,.702],[-1.455,.707],[-1.542,.719],[-1.740,.726],[-1.708,.721],[-1.669,.733],[-1.629,.729],[-1.574,.736],[-1.494,.726],[-1.431,.735],[-1.360,.735],[-1.312,.732],
[-1.217,.750],[-1.176,.748],[-1.098,.760],[-1.105,.772],[-1.295,.773],[-1.360,.770],[-1.455,.775],[-1.550,.772],[-1.613,.776],[-1.652,.772],[-1.708,.775],[-1.756,.769],[-1.836,.773],[-1.629,.765],[-1.764,.760],[-1.629,.760],[-1.542,.760],[-1.455,.760],[-1.351,.760],[-1.717,.754],[-1.812,.750],[-1.693,.747],[-1.455,.748],[-1.375,.748],[-1.295,.747],[-1.414,.741],[-1.343,.743],[-1.280,.741],
[-1.732,.784],[-1.613,.788],[-1.652,.779],[-1.414,.779],[-1.256,.784],[-1.217,.775],[-1.137,.792],[-1.613,.794],[-1.533,.796],[-1.693,.792],
[-1.890,.697],[-1.589,.695],[-1.946,.686],[-1.867,.685],[-1.812,.687],[-1.899,.680],[-1.851,.673],[-1.717,.677],[-1.637,.674],[-1.533,.677],[-2.074,.675],[-2.002,.670],[-1.899,.668],[-2.407,.664],[-2.360,.655],[-2.494,.654],[-2.145,.657],[-2.113,.657],[-1.938,.659],[-1.867,.657],[-1.804,.659],[-1.732,.666],[-1.661,.659],[-1.589,.659],[-1.581,.667],[-1.566,.643],[-1.685,.629],[-1.812,.620],[-1.899,.616],[-1.836,.603],[-1.851,.604],
[-.875,.764],[-1.018,.771],[-1.121,.760],[-1.113,.773],
[-1.92,.758],[-1.88,.745],[-1.78,.728],[-1.70,.765],[-1.60,.752],[-1.52,.744],[-1.47,.765],[-1.40,.755],[-1.58,.713],[-1.66,.705],[-1.75,.712],[-1.82,.705],[-1.95,.738],[-2.05,.735],[-2.12,.728],[-1.56,.686],[-1.49,.684],[-1.62,.690],[-1.44,.723],[-1.38,.718]
];

// ---------------- drawing ----------------
const svg = d3.select("#c");
const L = 66, R = 462, T = 7, B = 585;
const x = d3.scaleLinear().domain(xDomain).range([L, R]);
const y = d3.scaleLinear().domain(yDomain).range([B, T]);
const blue = "#3ea0d5", orange = "#f36f4c", green = "#6cb33e";
const FONT = "Liberation Sans, Arial, sans-serif";
const SX = 1.17; // horizontal glyph stretch seen in the reference text

svg.append("defs").append("clipPath").attr("id", "clip")
  .append("rect").attr("x", L).attr("y", T).attr("width", R - L).attr("height", B - T);

const g = svg.append("g").attr("clip-path", "url(#clip)");
g.append("rect").attr("x", L).attr("y", T).attr("width", R - L).attr("height", B - T).attr("fill", "#fff");
// grid
g.selectAll(".vmin").data(xMinor).join("line").attr("x1", d => x(d)).attr("x2", d => x(d)).attr("y1", T).attr("y2", B).attr("stroke", "#ededed").attr("stroke-width", 0.9);
g.selectAll(".hmin").data(yMinor).join("line").attr("y1", d => y(d)).attr("y2", d => y(d)).attr("x1", L).attr("x2", R).attr("stroke", "#ededed").attr("stroke-width", 0.9);
g.selectAll(".vmaj").data(xTicks).join("line").attr("x1", d => x(d)).attr("x2", d => x(d)).attr("y1", T).attr("y2", B).attr("stroke", "#ebebeb").attr("stroke-width", 1.6);
g.selectAll(".hmaj").data(yTicks).join("line").attr("y1", d => y(d)).attr("y2", d => y(d)).attr("x1", L).attr("x2", R).attr("stroke", "#ebebeb").attr("stroke-width", 1.6);

// groups
const ptStyle = sel => sel.attr("r", 4).attr("stroke", "#3a3a3a").attr("stroke-width", 0.8).attr("fill-opacity", 0.9);
g.append("g").selectAll("circle").data(mutant).join("circle")
  .attr("cx", d => x(d[0])).attr("cy", d => y(d[1])).attr("fill", orange).call(ptStyle);
g.append("g").selectAll("circle").data(wildType).join("circle")
  .attr("cx", d => x(d[0])).attr("cy", d => y(d[1])).attr("fill", blue).call(ptStyle);

// passive diffusion cloud
g.append("g").selectAll("circle").data(passive.concat(passiveMore, passiveDense)).join("circle")
  .attr("cx", d => x(d[0])).attr("cy", d => y(d[1])).attr("r", 1.5).attr("fill", "#000");

// fit band and line
const fitAt = v => d3.scaleLinear().domain(fitX).range(fitY)(v);
const band = bandX.map((v, i) => ({ x: v, lo: fitAt(v) - bandHalf[i], hi: fitAt(v) + bandHalf[i] }));
g.append("path").datum(band)
  .attr("d", d3.area().x(d => x(d.x)).y0(d => y(d.lo)).y1(d => y(d.hi)).curve(d3.curveMonotoneX))
  .attr("fill", "#bdbdbd").attr("fill-opacity", 0.6);
g.append("path").datum(fitX.map((v, i) => [v, fitY[i]]))
  .attr("d", d3.line().x(d => x(d[0])).y(d => y(d[1])))
  .attr("stroke", green).attr("stroke-width", 5).attr("fill", "none");

// error bars
const capW = 0.1, capH = 0.0098;
meanX.forEach((mx, i) => {
  const eg = g.append("g").attr("stroke", "#000").attr("stroke-width", 2.8).attr("fill", "none");
  eg.append("line").attr("x1", x(mx)).attr("x2", x(mx)).attr("y1", y(meanY[i] - sdY[i])).attr("y2", y(meanY[i] + sdY[i]));
  [meanY[i] - sdY[i], meanY[i] + sdY[i]].forEach(v => eg.append("line").attr("x1", x(mx - capW)).attr("x2", x(mx + capW)).attr("y1", y(v)).attr("y2", y(v)));
  eg.append("line").attr("x1", x(mx - sdX[i])).attr("x2", x(mx + sdX[i])).attr("y1", y(meanY[i])).attr("y2", y(meanY[i]));
  [mx - sdX[i], mx + sdX[i]].forEach(v => eg.append("line").attr("x1", x(v)).attr("x2", x(v)).attr("y1", y(meanY[i] - capH)).attr("y2", y(meanY[i] + capH)));
  g.append("circle").attr("cx", x(mx)).attr("cy", y(meanY[i])).attr("r", 6).attr("fill", "#000");
});

// panel border
svg.append("rect").attr("x", L).attr("y", T).attr("width", R - L).attr("height", B - T)
  .attr("fill", "none").attr("stroke", "#1a1a1a").attr("stroke-width", 1.4);

// axes
const xAxis = svg.append("g").attr("transform", `translate(0,${B})`)
  .call(d3.axisBottom(x).tickValues(xTicks).tickSize(4).tickPadding(17).tickFormat(d => d < 0 ? "\u2212" + Math.abs(d) : d));
const yAxis = svg.append("g").attr("transform", `translate(${L},0)`)
  .call(d3.axisLeft(y).tickValues(yTicks).tickSize(4).tickPadding(5.5).tickFormat(d3.format(".1f")));
[xAxis, yAxis].forEach(a => {
  a.select(".domain").remove();
  a.selectAll(".tick line").attr("stroke", "#333").attr("stroke-width", 1.3);
  a.selectAll("text").attr("fill", "#1a1a1a").attr("font-size", 17).attr("font-family", FONT)
    .attr("transform", `scale(${SX},1)`);
});

// titles
svg.append("text").attr("transform", `translate(266,640) scale(1.19,1)`).attr("text-anchor", "middle").attr("font-size", 20).attr("fill", "#000").text("log density (length/area)");
svg.append("text").attr("transform", "translate(25,300) rotate(-90)").attr("text-anchor", "middle").attr("font-size", 25).attr("fill", "#000").text("entropy");
svg.append("text").attr("x", 7).attr("y", 36).attr("font-size", 30).attr("font-weight", "bold").attr("fill", "#000").text("N");
svg.append("line").attr("x1", 0).attr("x2", 4).attr("y1", 91).attr("y2", 91).attr("stroke", "#000").attr("stroke-width", 1.5);

// legend
const lg = svg.append("g");
lg.append("rect").attr("x", 238.5).attr("y", 468.5).attr("width", 214).attr("height", 105).attr("fill", "#fff").attr("stroke", "#1a1a1a").attr("stroke-width", 1.2);
const rows = [491.7, 522.7, 553.5];
lg.append("circle").attr("cx", 261).attr("cy", rows[0]).attr("r", 5).attr("fill", blue);
lg.append("circle").attr("cx", 261).attr("cy", rows[1]).attr("r", 5).attr("fill", orange);
lg.append("line").attr("x1", 245).attr("x2", 277).attr("y1", rows[2]).attr("y2", rows[2]).attr("stroke", green).attr("stroke-width", 6);
legendLabels.forEach((t, i) => {
  lg.append("text").attr("x", 283).attr("y", rows[i]).attr("dy", "0.36em").attr("font-size", 21)
    .attr("font-style", i === 1 ? "italic" : "normal").attr("fill", "#000").text(t);
});
</script></body></html>
